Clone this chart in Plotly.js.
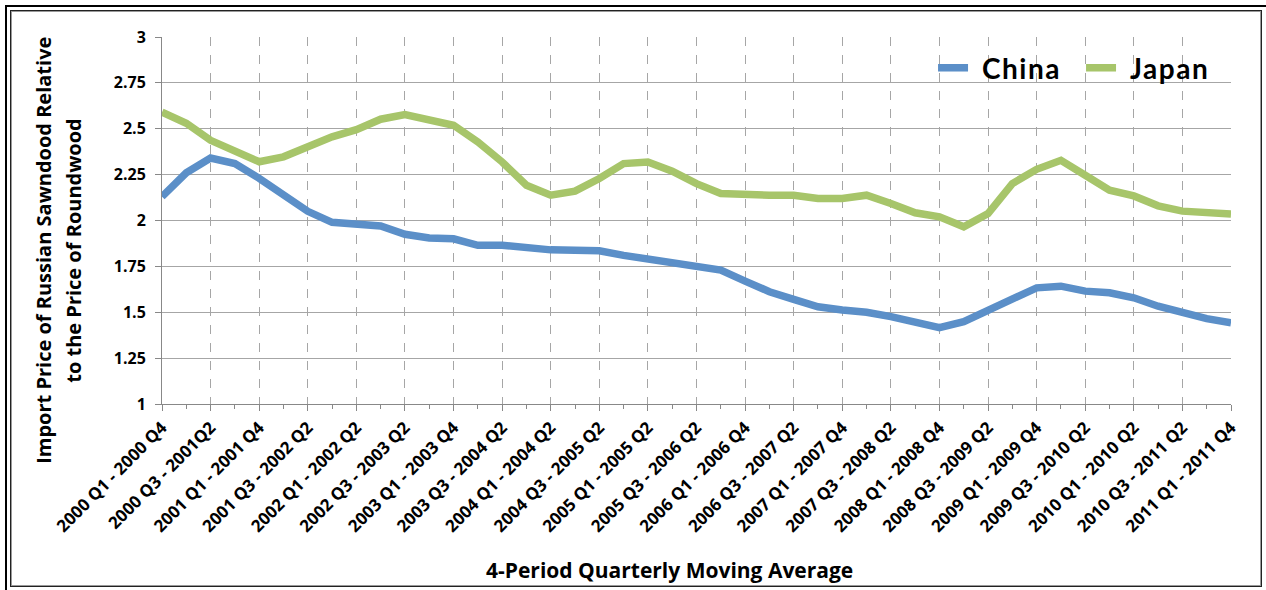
<!DOCTYPE html>
<html>
<head>
<meta charset="utf-8">
<script src="https://cdn.plot.ly/plotly-3.0.1.min.js"></script>
<style>
  html, body { margin: 0; padding: 0; background: #fff; }
  #wrap { position: relative; width: 1266px; height: 590px; overflow: hidden; }
  #chart { position: absolute; left: 0; top: 0; width: 1266px; height: 590px; }
  .frame { position: absolute; pointer-events: none; box-sizing: border-box; }
  #outer { left: 5px; top: 5px; width: 1263px; height: 587px; border: 2px solid #000; }
  #inner { left: 10px; top: 10px; width: 1252px; height: 577px; border: 1px solid #222; box-shadow: inset 1px 1px 0 #999, inset -1px -1px 0 #999; }
  .legendtext { letter-spacing: 1.5px; transform: translateX(9px); }
</style>
</head>
<body>
<div id="wrap">
  <div id="chart"></div>
  <div class="frame" id="outer"></div>
  <div class="frame" id="inner"></div>
</div>
<script>
// Categories: 4-period quarterly moving average windows
const categories = [
  "2000 Q1 - 2000 Q4", "2000 Q2 - 2001 Q1", "2000 Q3 - 2001Q2", "2000 Q4 - 2001 Q3",
  "2001 Q1 - 2001 Q4", "2001 Q2 - 2002 Q1", "2001 Q3 - 2002 Q2", "2001 Q4 - 2002 Q3",
  "2002 Q1 - 2002 Q2", "2002 Q2 - 2003 Q1", "2002 Q3 - 2003 Q2", "2002 Q4 - 2003 Q3",
  "2003 Q1 - 2003 Q4", "2003 Q2 - 2004 Q1", "2003 Q3 - 2004 Q2", "2003 Q4 - 2004 Q3",
  "2004 Q1 - 2004 Q2", "2004 Q2 - 2005 Q1", "2004 Q3 - 2005 Q2", "2004 Q4 - 2005 Q3",
  "2005 Q1 - 2005 Q2", "2005 Q2 - 2006 Q1", "2005 Q3 - 2006 Q2", "2005 Q4 - 2006 Q3",
  "2006 Q1 - 2006 Q4", "2006 Q2 - 2007 Q1", "2006 Q3 - 2007 Q2", "2006 Q4 - 2007 Q3",
  "2007 Q1 - 2007 Q4", "2007 Q2 - 2008 Q1", "2007 Q3 - 2008 Q2", "2007 Q4 - 2008 Q3",
  "2008 Q1 - 2008 Q4", "2008 Q2 - 2009 Q1", "2008 Q3 - 2009 Q2", "2008 Q4 - 2009 Q3",
  "2009 Q1 - 2009 Q4", "2009 Q2 - 2010 Q1", "2009 Q3 - 2010 Q2", "2009 Q4 - 2010 Q3",
  "2010 Q1 - 2010 Q2", "2010 Q2 - 2011 Q1", "2010 Q3 - 2011 Q2", "2010 Q4 - 2011 Q3",
  "2011 Q1 - 2011 Q4"
];

// Labelled categories on the x axis (every other window)
const xTickLabels = [
  "2000 Q1 - 2000 Q4", "2000 Q3 - 2001Q2", "2001 Q1 - 2001 Q4", "2001 Q3 - 2002 Q2",
  "2002 Q1 - 2002 Q2", "2002 Q3 - 2003 Q2", "2003 Q1 - 2003 Q4", "2003 Q3 - 2004 Q2",
  "2004 Q1 - 2004 Q2", "2004 Q3 - 2005 Q2", "2005 Q1 - 2005 Q2", "2005 Q3 - 2006 Q2",
  "2006 Q1 - 2006 Q4", "2006 Q3 - 2007 Q2", "2007 Q1 - 2007 Q4", "2007 Q3 - 2008 Q2",
  "2008 Q1 - 2008 Q4", "2008 Q3 - 2009 Q2", "2009 Q1 - 2009 Q4", "2009 Q3 - 2010 Q2",
  "2010 Q1 - 2010 Q2", "2010 Q3 - 2011 Q2", "2011 Q1 - 2011 Q4"
];

const china = [
  2.13, 2.26, 2.34, 2.31, 2.23, 2.14, 2.05, 1.99, 1.975, 1.97,
  1.925, 1.905, 1.90, 1.865, 1.865, 1.85, 1.84, 1.838, 1.835, 1.81,
  1.79, 1.78, 1.757, 1.73, 1.67, 1.612, 1.57, 1.53, 1.512, 1.50,
  1.476, 1.449, 1.416, 1.449, 1.51, 1.564, 1.633, 1.642, 1.615, 1.606,
  1.579, 1.533, 1.497, 1.465, 1.443
];

const japan = [
  2.59, 2.53, 2.437, 2.383, 2.32, 2.347, 2.405, 2.456, 2.495, 2.552,
  2.577, 2.552, 2.519, 2.428, 2.319, 2.192, 2.138, 2.16, 2.229, 2.31,
  2.319, 2.269, 2.201, 2.147, 2.138, 2.138, 2.138, 2.12, 2.12, 2.138,
  2.093, 2.042, 2.02, 1.966, 2.038, 2.201, 2.279, 2.328, 2.247, 2.165,
  2.134, 2.08, 2.051, 2.044, 2.035
];

const yTickValues = [1, 1.25, 1.5, 1.75, 2, 2.25, 2.5, 2.75, 3];
const yTickLabels = ["1", "1.25", "1.5", "1.75", "2", "2.25", "2.5", "2.75", "3"];

const yTitleLines = ["Import Price of Russian Sawndood Relative", "to the Price of Roundwood"];
const xTitle = "4-Period Quarterly Moving Average";

const FONT = "'Open Sans', Lato, sans-serif";
const LFONT = "Lato, 'Open Sans', sans-serif";
const BLUE = "#5b8fc8";
const GREEN = "#a7c56a";

const traces = [
  { x: categories, y: china, name: "China", type: "scatter", mode: "lines",
    line: { color: BLUE, width: 7.5 } },
  { x: categories, y: japan, name: "Japan", type: "scatter", mode: "lines",
    line: { color: GREEN, width: 7.5 } }
];

const layout = {
  width: 1266, height: 590,
  margin: { l: 162, r: 35, t: 37, b: 186, autoexpand: false },
  paper_bgcolor: "#fff", plot_bgcolor: "#fff",
  font: { family: FONT, color: "#000" },
  showlegend: true,
  legend: {
    orientation: "h", xref: "container", yref: "container",
    x: 0.737, xanchor: "left", y: 0.927, yanchor: "top",
    font: { family: LFONT, size: 28, weight: 700, color: "#000" },
    bgcolor: "rgba(0,0,0,0)", itemwidth: 30, entrywidth: 103, entrywidthmode: "pixels"
  },
  xaxis: {
    type: "category", categoryorder: "array", categoryarray: categories,
    range: [0, categories.length - 1],
    tickmode: "array", tickvals: xTickLabels, ticktext: xTickLabels,
    tickangle: -45, tickfont: { family: FONT, size: 17, weight: 700, color: "#000" },
    ticks: "outside", ticklen: 6, tickcolor: "#888",
    showline: true, linecolor: "#888", linewidth: 1,
    showgrid: true, gridcolor: "#a6a6a6", griddash: "dash", gridwidth: 1,
    minor: { tickmode: "linear", dtick: 1, ticks: "outside", ticklen: 4, tickcolor: "#888", showgrid: false },
    zeroline: false, automargin: false
  },
  yaxis: {
    range: [1, 3], tickmode: "array", tickvals: yTickValues, ticktext: yTickLabels,
    tickfont: { family: FONT, size: 16, weight: 700, color: "#000" },
    ticks: "outside", ticklen: 6, tickcolor: "#888", ticklabelstandoff: 6,
    showline: true, linecolor: "#888", linewidth: 1, automargin: false,
    showgrid: true, gridcolor: "#a6a6a6", gridwidth: 1, zeroline: false
  },
  annotations: [
    { text: yTitleLines[0], xref: "paper", yref: "paper", x: -0.1104, y: 0.42,
      xanchor: "center", yanchor: "middle", textangle: -90, showarrow: false,
      font: { family: FONT, size: 20, weight: 700, color: "#000" } },
    { text: yTitleLines[1], xref: "paper", yref: "paper", x: -0.0824, y: 0.42,
      xanchor: "center", yanchor: "middle", textangle: -90, showarrow: false,
      font: { family: FONT, size: 20, weight: 700, color: "#000" } },
    { text: xTitle, xref: "paper", yref: "paper", x: 0.4752, y: -0.452,
      xanchor: "center", yanchor: "middle", showarrow: false,
      font: { family: FONT, size: 21, weight: 700, color: "#000" } }
  ]
};

Plotly.newPlot("chart", traces, layout, { staticPlot: true, displayModeBar: false });
</script>
</body>
</html>
